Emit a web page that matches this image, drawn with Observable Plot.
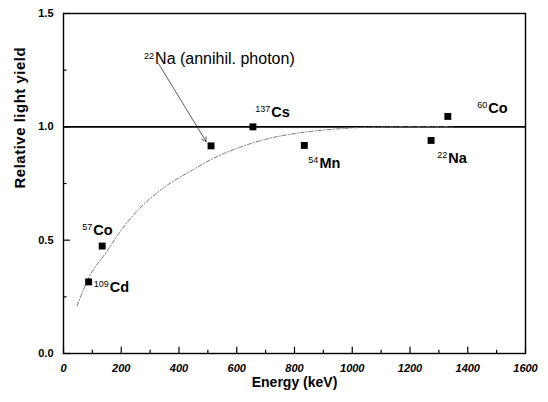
<!DOCTYPE html>
<html><head><meta charset="utf-8">
<script src="https://cdn.jsdelivr.net/npm/d3@7"></script>
<script src="https://cdn.jsdelivr.net/npm/@observablehq/plot@0.6"></script>
<style>
body{margin:0;background:#fff}
svg{font-family:"Liberation Sans",Arial,sans-serif}
.ylab text{letter-spacing:0.5px}
</style>
</head><body><div id="chart"></div>
<script>
// measured points
const sources = ["109Cd", "57Co", "22Na (annihil.)", "137Cs", "54Mn", "22Na", "60Co"];
const energy = [87, 134, 511, 656, 834, 1273, 1331];
const lightYield = [0.316, 0.474, 0.916, 1.0, 0.918, 0.940, 1.046];

// fitted curve
const fitEnergy = [47, 88, 150, 200, 260, 340, 450, 510, 600, 700, 820, 940, 1050, 1200, 1350];
const fitYield = [0.21, 0.335, 0.45, 0.545, 0.635, 0.725, 0.812, 0.855, 0.905, 0.945, 0.974, 0.99, 0.998, 1.0, 1.0];

// isotope labels (mass number, element)
const labelIso = ["109", "57", "137", "54", "22", "60"];
const labelElem = ["Cd", "Co", "Cs", "Mn", "Na", "Co"];
const labelEnergy = [105, 65, 664, 848, 1294, 1433];
const labelYield = [0.291, 0.543, 1.063, 0.838, 0.860, 1.081];

// annotation with arrow
const noteIso = ["22"];
const noteElem = ["Na (annihil. photon)"];
const noteEnergy = [279];
const noteYield = [1.301];
const arrowX1 = [329], arrowY1 = [1.279], arrowX2 = [494], arrowY2 = [0.935];

// axes
const xTicks = [0, 200, 400, 600, 800, 1000, 1200, 1400, 1600];
const xMinor = [100, 300, 500, 700, 900, 1100, 1300, 1500];
const yTicks = [0, 0.5, 1.0, 1.5];
const yMinor = [0.25, 0.75, 1.25];

const points = energy.map((e, i) => ({source: sources[i], energy: e, value: lightYield[i]}));
const fit = fitEnergy.map((e, i) => ({energy: e, value: fitYield[i]}));
const labels = labelIso.map((t, i) => ({text: t + "|" + labelElem[i], energy: labelEnergy[i], value: labelYield[i]}));
const notes = noteIso.map((t, i) => ({text: t + "|" + noteElem[i], energy: noteEnergy[i], value: noteYield[i]}));
const arrows = arrowX1.map((x, i) => ({x1: x, y1: arrowY1[i], x2: arrowX2[i], y2: arrowY2[i]}));

const chart = Plot.plot({
  width: 548,
  height: 402,
  marginLeft: 63,
  marginRight: 23,
  marginTop: 13,
  marginBottom: 49,
  x: {domain: [0, 1600]},
  y: {domain: [0, 1.5]},
  marks: [
    Plot.frame({stroke: "#000", strokeWidth: 1.4}),
    Plot.ruleY([1], {stroke: "#000", strokeWidth: 1.8}),
    Plot.line(fit, {x: "energy", y: "value", curve: "monotone-x", stroke: "#777", strokeWidth: 1, strokeDasharray: "4,2,1,2"}),
    Plot.arrow(arrows, {x1: "x1", y1: "y1", x2: "x2", y2: "y2", stroke: "#333", strokeWidth: 0.8, headLength: 9}),
    Plot.dot(points, {x: "energy", y: "value", symbol: "square", r: 3.9, fill: "#000", stroke: null}),
    // inward ticks
    Plot.ruleX(xTicks, {x: d => d, y1: 0, y2: 0.028, stroke: "#000", strokeWidth: 1.2}),
    Plot.ruleX(xMinor, {x: d => d, y1: 0, y2: 0.014, stroke: "#000", strokeWidth: 1.2}),
    Plot.ruleY(yTicks, {y: d => d, x1: 0, x2: 24, stroke: "#000", strokeWidth: 1.2}),
    Plot.ruleY(yMinor, {y: d => d, x1: 0, x2: 12, stroke: "#000", strokeWidth: 1.2}),
    Plot.axisX(xTicks, {tickSize: 0, tickPadding: 11, fontSize: 11, fontWeight: "bold", fontStyle: "italic", tickFormat: d3.format("d"), label: null}),
    Plot.axisY(yTicks, {tickSize: 0, tickPadding: 10, fontSize: 11, fontWeight: "bold", tickFormat: d3.format(".1f"), label: null}),
    Plot.text(labels, {x: "energy", y: "value", text: "text", textAnchor: "start", fontSize: 14.5, fontWeight: "bold", fill: "#000", className: "iso-label"}),
    Plot.text(notes, {x: "energy", y: "value", text: "text", textAnchor: "start", fontSize: 16, fill: "#000", className: "iso-label"}),
    Plot.text(["Energy (keV)"], {frameAnchor: "bottom", dy: 33, text: d => d, fontSize: 14, fontWeight: "bold", fill: "#000"}),
    Plot.text(["Relative light yield"], {frameAnchor: "left", dx: -43, dy: 5, rotate: -90, text: d => d, fontSize: 15, fontWeight: "bold", fill: "#000", className: "ylab"})
  ]
});

// split "iso|element" into a superscript tspan and the element name
d3.select(chart).selectAll(".iso-label text").each(function() {
  const s = this.textContent;
  if (!s.includes("|")) return;
  const [iso, elem] = s.split("|");
  const t = d3.select(this);
  t.text(null);
  t.append("tspan").attr("font-size", 9).attr("font-weight", "normal").attr("dy", -5).text(iso);
  t.append("tspan").attr("dy", 5).attr("dx", 1).text(elem);
});

document.getElementById("chart").appendChild(chart);
</script>
</body></html>
